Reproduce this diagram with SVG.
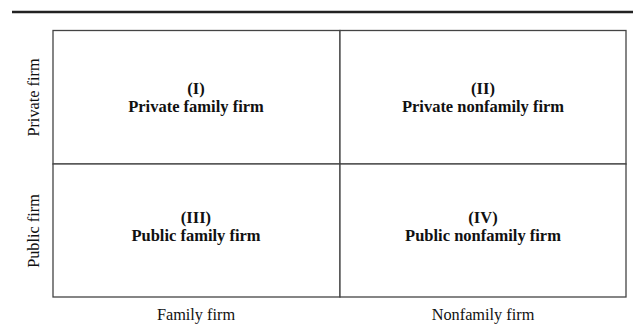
<svg xmlns="http://www.w3.org/2000/svg" width="633" height="324" viewBox="0 0 633 324">
<style>
.cell{fill:#fff;stroke:#444;stroke-width:1.3}
.lbl{font-family:"Liberation Serif","Times New Roman",serif;font-size:16.5px;font-weight:bold;fill:#111;text-anchor:middle}
.ax{font-family:"Liberation Serif","Times New Roman",serif;font-size:16.3px;fill:#111;text-anchor:middle}
</style>
<rect width="633" height="324" fill="#fff"/>
<line x1="12" y1="12" x2="633" y2="12" stroke="#222" stroke-width="2.4"/>
<g id="cell-I"><rect class="cell" x="53" y="30.5" width="287" height="133.5"/><text class="lbl" x="196" y="94">(I)</text><text class="lbl" x="196" y="112">Private family firm</text></g>
<g id="cell-II"><rect class="cell" x="340" y="30.5" width="286" height="133.5"/><text class="lbl" x="483" y="94">(II)</text><text class="lbl" x="483" y="112">Private nonfamily firm</text></g>
<g id="cell-III"><rect class="cell" x="53" y="164" width="287" height="133"/><text class="lbl" x="196" y="223">(III)</text><text class="lbl" x="196" y="241">Public family firm</text></g>
<g id="cell-IV"><rect class="cell" x="340" y="164" width="286" height="133"/><text class="lbl" x="483" y="223">(IV)</text><text class="lbl" x="483" y="241">Public nonfamily firm</text></g>
<g id="axis-labels">
<text class="ax" transform="translate(39,97.5) rotate(-90)">Private firm</text>
<text class="ax" transform="translate(39,231) rotate(-90)">Public firm</text>
<text class="ax" x="196" y="320">Family firm</text>
<text class="ax" x="483" y="320">Nonfamily firm</text>
</g>
</svg>
